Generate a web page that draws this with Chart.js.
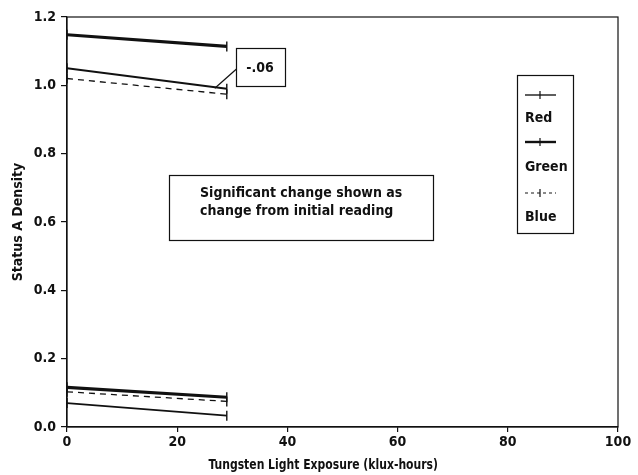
<!DOCTYPE html>
<html>
<head>
<meta charset="utf-8">
<script src="https://cdn.jsdelivr.net/npm/chart.js@4/dist/chart.umd.min.js"></script>
<style>
  html, body { margin: 0; padding: 0; background: #fff; }
  #wrap { width: 638px; height: 475px; position: relative; }
</style>
</head>
<body>
<div id="wrap"><canvas id="c"></canvas></div>
<script>
// Exposure steps (klux-hours) at which density was read
const exposure = [0, 29];

// Status A density readings, high-density and low-density patches
const redHigh   = [1.05, 0.99];
const redLow    = [0.07, 0.033];
const greenHigh = [1.148, 1.114];
const greenLow  = [0.116, 0.087];
const blueHigh  = [1.02, 0.974];
const blueLow   = [0.103, 0.075];

const xTicks = [0, 20, 40, 60, 80, 100];
const yTicks = [0.0, 0.2, 0.4, 0.6, 0.8, 1.0, 1.2];

const xTitle = 'Tungsten Light Exposure (klux-hours)';
const yTitle = 'Status A Density';
const noteLines = ['Significant change shown as', 'change from initial reading'];

const FONT = '"DejaVu Sans Condensed", "Liberation Sans", Arial, sans-serif';
const INK = '#111';

function pts(vals) { return exposure.map((x, i) => ({ x: x, y: vals[i] })); }

const styles = {
  Red:   { borderWidth: 1.8, borderDash: [] },
  Green: { borderWidth: 3.2, borderDash: [] },
  Blue:  { borderWidth: 1.3, borderDash: [6, 5] }
};

function ds(label, vals, legend) {
  const s = styles[label];
  return {
    label: label,
    data: pts(vals),
    showInLegend: legend,
    borderColor: INK,
    backgroundColor: INK,
    borderWidth: s.borderWidth,
    borderDash: s.borderDash,
    pointStyle: 'line',
    rotation: 90,
    pointRadius: 5,
    pointBorderWidth: 1.4,
    pointBorderColor: INK,
    tension: 0,
    fill: false
  };
}

const datasets = [
  ds('Red', redHigh, true),
  ds('Green', greenHigh, true),
  ds('Blue', blueHigh, true),
  ds('Red', redLow, false),
  ds('Green', greenLow, false),
  ds('Blue', blueLow, false)
];

// Frame, axis titles, note boxes, change label and legend
const decor = {
  id: 'decor',
  afterDraw(chart) {
    const ctx = chart.ctx;
    const a = chart.chartArea;
    const xs = chart.scales.x, ys = chart.scales.y;
    ctx.save();
    ctx.strokeStyle = INK;
    ctx.fillStyle = INK;
    ctx.lineWidth = 1.2;
    ctx.setLineDash([]);
    ctx.strokeRect(a.left, a.top, a.right - a.left, a.bottom - a.top);

    // axis titles (x title set in a narrowed face)
    ctx.textAlign = 'center';
    ctx.textBaseline = 'middle';
    ctx.font = 'bold 14px ' + FONT;
    ctx.save();
    ctx.translate(a.left + (a.right - a.left) * 0.465, 465);
    ctx.scale(0.86, 1);
    ctx.fillText(xTitle, 0, 0);
    ctx.restore();
    ctx.save();
    ctx.translate(18, (a.top + a.bottom) / 2);
    ctx.rotate(-Math.PI / 2);
    ctx.fillText(yTitle, 0, 0);
    ctx.restore();

    // note box
    ctx.lineWidth = 1.2;
    ctx.strokeRect(169.5, 175.5, 264, 65);
    ctx.textAlign = 'left';
    ctx.fillText(noteLines[0], 200, 193);
    ctx.fillText(noteLines[1], 200, 211);

    // red change label with leader
    const change = redHigh[1] - redHigh[0];
    const changeText = change.toFixed(2).replace('0.', '.');
    const endX = xs.getPixelForValue(exposure[1]);
    const endY = ys.getPixelForValue(redHigh[1]);
    ctx.strokeRect(236.5, 48.5, 49, 38);
    ctx.beginPath();
    ctx.moveTo(endX - 12, endY - 0.5);
    ctx.lineTo(236.5, 69);
    ctx.stroke();
    ctx.font = 'bold 14px ' + FONT;
    ctx.textAlign = 'center';
    ctx.fillText(changeText, 260, 68);

    // legend: sample line above each label
    const lx = 517.5, ly = 75.5, lw = 56, lh = 158;
    ctx.lineWidth = 1.2;
    ctx.strokeRect(lx, ly, lw, lh);
    const entries = chart.data.datasets.filter(d => d.showInLegend);
    const sampleY = [95, 142, 193];
    const textY = [118, 167, 217];
    entries.forEach((d, i) => {
      const y = sampleY[i];
      ctx.save();
      ctx.lineWidth = d.borderWidth * 0.75;
      ctx.setLineDash(d.borderDash.length ? [3, 3] : []);
      ctx.beginPath();
      ctx.moveTo(525, y);
      ctx.lineTo(556, y);
      ctx.stroke();
      ctx.setLineDash([]);
      ctx.lineWidth = 1.2;
      ctx.beginPath();
      ctx.moveTo(540, y - 4);
      ctx.lineTo(540, y + 4);
      ctx.stroke();
      ctx.restore();
      ctx.font = 'bold 14px ' + FONT;
      ctx.textAlign = 'left';
      ctx.fillText(d.label, 525, textY[i]);
    });
    ctx.restore();
  }
};

new Chart(document.getElementById('c'), {
  type: 'line',
  data: { datasets: datasets },
  plugins: [decor],
  options: {
    responsive: true,
    maintainAspectRatio: false,
    animation: false,
    layout: { padding: { top: 17, right: 20, left: 0, bottom: 0 } },
    plugins: { legend: { display: false }, tooltip: { enabled: false } },
    scales: {
      x: {
        type: 'linear',
        min: 0, max: 100,
        afterFit(s) { s.height = 48; },
        afterBuildTicks(s) { s.ticks = xTicks.map(v => ({ value: v })); },
        grid: { display: true, drawOnChartArea: false, drawTicks: true, tickLength: 5, color: INK, lineWidth: 1.2 },
        border: { display: true, color: INK, width: 1.2 },
        ticks: { color: INK, font: { family: FONT, size: 14, weight: 'bold' }, padding: 2, maxRotation: 0, callback: v => String(v) }
      },
      y: {
        type: 'linear',
        min: 0, max: 1.2,
        afterFit(s) { s.width = 67; },
        afterBuildTicks(s) { s.ticks = yTicks.map(v => ({ value: v })); },
        grid: { display: true, drawOnChartArea: false, drawTicks: true, tickLength: 6, color: INK, lineWidth: 1.2 },
        border: { display: true, color: INK, width: 1.2 },
        ticks: { color: INK, font: { family: FONT, size: 14, weight: 'bold' }, padding: 5, callback: v => Number(v).toFixed(1) }
      }
    }
  }
});
</script>
</body>
</html>
